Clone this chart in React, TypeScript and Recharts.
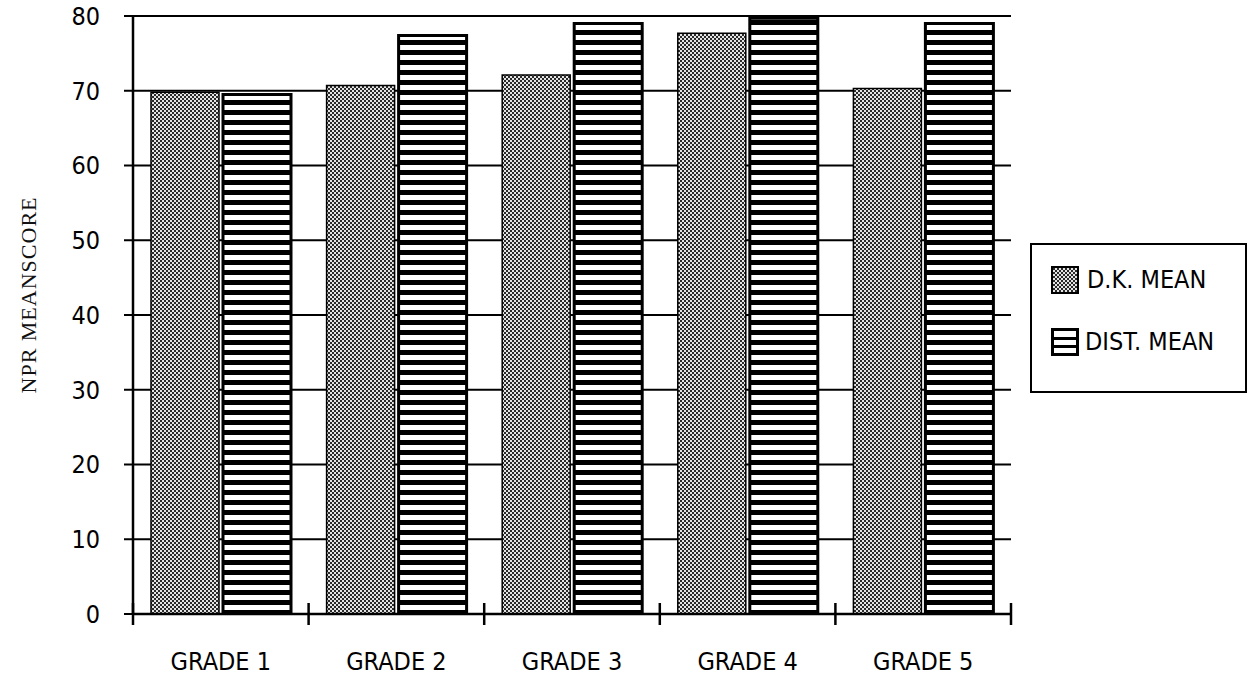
import { BarChart, Bar, XAxis, YAxis, CartesianGrid, Legend } from "recharts";

const grades = ["GRADE 1", "GRADE 2", "GRADE 3", "GRADE 4", "GRADE 5"];
const dkMean = [69.8, 70.7, 72.1, 77.7, 70.3];
const distMean = [69.5, 77.4, 79.0, 79.7, 79.0];
const yTicks = [0, 10, 20, 30, 40, 50, 60, 70, 80];

const seriesNames = { dk: "D.K. MEAN", dist: "DIST. MEAN" };

const data = grades.map((grade, i) => ({
  grade,
  dk: dkMean[i],
  dist: distMean[i],
}));

const FONT = "'DejaVu Sans Condensed', 'DejaVu Sans', sans-serif";

function Patterns() {
  return (
    <defs>
      <pattern id="dkFill" width="4" height="4" patternUnits="userSpaceOnUse">
        <rect width="4" height="4" fill="#e4e4e4" />
        <rect x="0" y="0" width="2" height="2" fill="#2a2a2a" />
        <rect x="2" y="2" width="2" height="2" fill="#2a2a2a" />
      </pattern>
      <pattern id="distFill" width="10" height="10" patternUnits="userSpaceOnUse">
        <rect width="10" height="10" fill="#000" />
        <rect x="0" y="5" width="10" height="5" fill="#fff" />
      </pattern>
    </defs>
  );
}

// grade label in the middle of the band, cross ticks on the band edges
function GradeTick(props: any) {
  const { x, y, payload, index, visibleTicksCount } = props;
  const half = payload.offset || 0;
  const edges = [x - half];
  if (index === visibleTicksCount - 1) edges.push(x + half);
  return (
    <g>
      {edges.map((ex) => (
        <line key={ex} x1={ex} x2={ex} y1={y - 11} y2={y + 11} stroke="#000" strokeWidth={2.5} />
      ))}
      <text x={x} y={y + 56} textAnchor="middle" fill="#000" fontSize={25}>
        {payload.value}
      </text>
    </g>
  );
}

function YTitle(props: any) {
  const { viewBox } = props;
  const cx = viewBox.x + 28;
  const cy = viewBox.y + viewBox.height / 2 - 20;
  return (
    <text
      x={cx}
      y={cy}
      transform={`rotate(-90 ${cx} ${cy})`}
      textAnchor="middle"
      dominantBaseline="central"
      style={{ fontFamily: "'Liberation Serif', serif", fontSize: 22, letterSpacing: 1 }}
      fill="#111"
    >
      NPR MEANSCORE
    </text>
  );
}

function LegendBox() {
  return (
    <div
      style={{
        boxSizing: "border-box",
        width: 217,
        height: 150,
        border: "2px solid #000",
        fontFamily: FONT,
        fontSize: 25,
        color: "#000",
      }}
    >
      <div style={{ display: "flex", alignItems: "center", marginTop: 20, marginLeft: 19 }}>
        <svg width={28} height={28} style={{ marginRight: 8 }}>
          <rect x={1} y={1} width={26} height={26} fill="url(#dkFill)" stroke="#000" strokeWidth={2} />
        </svg>
        <span>{seriesNames.dk}</span>
      </div>
      <div style={{ display: "flex", alignItems: "center", marginTop: 33, marginLeft: 19 }}>
        <svg width={28} height={28} style={{ marginRight: 6 }}>
          <rect x={1.5} y={1.5} width={25} height={25} fill="#fff" stroke="#000" strokeWidth={3} />
          <rect x={1.5} y={9} width={25} height={3} fill="#000" />
          <rect x={1.5} y={17} width={25} height={3} fill="#000" />
        </svg>
        <span>{seriesNames.dist}</span>
      </div>
    </div>
  );
}

export default function App() {
  return (
    <div
      style={{
        position: "absolute",
        left: 0,
        top: 0,
        width: 1250,
        height: 676,
        background: "#fff",
        fontFamily: FONT,
      }}
    >
      <BarChart
        width={1250}
        height={676}
        data={data}
        margin={{ top: 16, right: 239, bottom: 0, left: 0 }}
        barSize={68}
        barGap={4}
      >
        <Patterns />
        <CartesianGrid vertical={false} stroke="#000" strokeWidth={2} />
        <XAxis
          dataKey="grade"
          height={62}
          interval={0}
          axisLine={{ stroke: "#000", strokeWidth: 2.5 }}
          tickLine={false}
          tickSize={0}
          tickMargin={0}
          tick={<GradeTick />}
        />
        <YAxis
          domain={[0, 80]}
          ticks={yTicks}
          width={133}
          tickSize={9}
          tickMargin={24}
          tickLine={{ stroke: "#000", strokeWidth: 2 }}
          axisLine={{ stroke: "#000", strokeWidth: 2.5 }}
          tick={{ fill: "#000", fontSize: 25 }}
          label={<YTitle />}
          allowDataOverflow
        />
        <Legend
          layout="horizontal"
          align="center"
          verticalAlign="middle"
          wrapperStyle={{ left: 1030, top: 243, width: 217, height: 150 }}
          content={() => <LegendBox />}
        />
        <Bar
          dataKey="dk"
          name={seriesNames.dk}
          fill="url(#dkFill)"
          stroke="#000"
          strokeWidth={1.5}
          isAnimationActive={false}
        />
        <Bar
          dataKey="dist"
          name={seriesNames.dist}
          fill="url(#distFill)"
          stroke="#000"
          strokeWidth={3}
          isAnimationActive={false}
        />
      </BarChart>
    </div>
  );
}
